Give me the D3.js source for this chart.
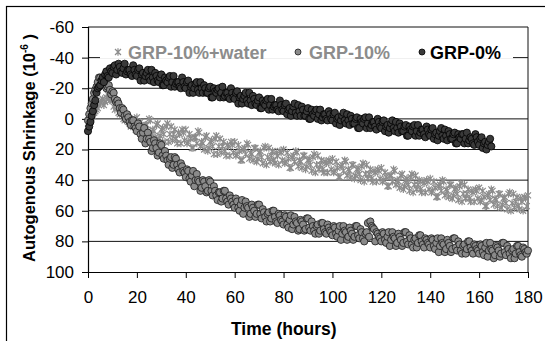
<!DOCTYPE html>
<html><head><meta charset="utf-8">
<script src="https://cdn.jsdelivr.net/npm/d3@7"></script>
<style>
html,body{margin:0;padding:0;background:#fff;}
text{font-family:"Liberation Sans",Arial,sans-serif;}
</style></head>
<body>
<svg id="chart" width="545" height="341"></svg>
<script>
// Series names (legend order)
const seriesNames = ["GRP-10%+water", "GRP-10%", "GRP-0%"];
// Readings on the hour (t = 0,1,2,... h) and on the half hour (t = 0.5,1.5,... h); values in 10^-6
const grpWaterHour = [3,1,-2,-5,-7,-10,-13,-11,-16,-12,
  -12,-6,-8,-3,-4,1,-1,3,0,4,
  -1,7,5,11,4,0,10,8,4,13,
  7,10,5,15,5,10,13,9,16,9,
  7,15,13,19,12,8,18,16,12,21,
  15,18,13,23,13,18,21,17,24,17,
  15,23,21,27,19,16,26,23,19,28,
  22,25,19,30,19,24,27,22,30,22,
  20,28,26,32,24,21,31,28,24,33,
  27,30,25,35,24,30,33,28,35,28,
  26,34,32,38,30,27,37,34,30,39,
  33,36,31,41,30,36,39,34,41,34,
  32,40,38,44,37,33,43,41,37,46,
  40,43,38,48,37,43,46,41,48,41,
  39,47,45,51,43,40,50,47,43,52,
  46,49,44,54,43,49,52,47,54,47,
  45,53,51,57,49,46,56,53,49,58,
  52,55,49,60,49,54,57,52,60,52,50];
const grpWaterHalf = [2,-1,-4,-6,-9,-12,-9,-14,-13,-15,
  -8,-10,-4,-6,0,-2,2,5,1,7,
  8,2,11,4,8,1,7,12,3,11,
  6,15,3,10,14,7,16,10,7,14,
  16,10,19,12,16,9,15,20,11,19,
  14,23,11,18,22,15,24,18,15,22,
  24,17,27,20,23,17,22,27,19,26,
  21,29,18,25,28,21,29,24,21,27,
  29,22,32,25,28,22,27,32,24,31,
  26,34,23,30,33,27,35,29,27,33,
  35,28,38,31,34,28,33,38,30,37,
  32,40,29,36,39,33,41,35,33,39,
  41,35,44,37,41,34,40,45,36,44,
  39,47,36,43,46,40,48,42,40,46,
  48,41,51,44,47,41,46,51,43,50,
  45,53,42,49,52,46,54,48,46,52,
  54,47,57,50,53,47,52,57,49,56,
  51,59,48,55,58,51,59,54,51,57];
const grp10Hour = [1,-7,-13,-19,-24,-27,-25,-23,-21,-19,
  -18,-13,-12,-7,-7,-2,-3,2,1,5,
  8,5,13,6,13,13,21,14,19,22,
  17,26,24,30,25,30,26,33,29,34,
  38,34,41,34,40,40,47,40,44,47,
  41,50,47,53,48,52,47,54,50,54,
  58,54,60,53,58,57,64,56,60,62,
  56,65,61,67,61,65,60,67,62,66,
  69,64,71,63,69,67,73,66,69,72,
  65,73,70,75,69,73,68,74,69,73,
  76,71,77,70,75,73,79,71,75,77,
  70,78,74,80,74,77,70,72,74,77,
  80,75,81,74,79,77,83,75,79,81,
  74,82,78,84,78,81,76,82,78,81,
  84,79,85,78,83,81,87,79,83,85,
  78,86,82,88,82,85,80,86,82,85,
  88,83,89,81,86,85,91,83,86,88,
  81,89,85,91,85,88,83,89,84,87,86];
const grp10Half = [-3,-10,-17,-21,-27,-23,-26,-20,-22,-16,
  -17,-11,-10,-4,-6,0,-1,4,1,6,
  3,10,9,16,9,15,19,16,24,16,
  24,21,27,26,32,25,30,35,31,35,
  33,39,37,44,36,41,45,41,48,40,
  47,44,50,48,54,47,52,56,52,56,
  52,58,56,62,54,58,62,58,64,56,
  62,59,64,62,67,60,64,68,63,67,
  63,69,66,72,64,68,72,67,73,65,
  71,67,73,70,75,68,72,75,71,74,
  70,75,73,79,70,74,77,73,79,70,
  76,72,78,75,68,67,71,80,75,78,
  74,79,77,83,74,78,81,77,83,74,
  80,76,82,79,84,76,80,84,79,82,
  78,83,81,87,78,82,85,81,87,78,
  84,80,86,83,88,80,84,88,83,86,
  82,87,84,90,81,86,89,84,90,81,
  87,83,88,86,91,83,87,90,85,88];
const grp0Hour = [8,2,-5,-12,-20,-22,-27,-29,-28,-33,
  -30,-35,-32,-34,-30,-36,-31,-32,-28,-32,
  -28,-33,-29,-25,-30,-27,-32,-24,-28,-24,
  -29,-22,-25,-27,-21,-28,-23,-24,-20,-24,
  -20,-25,-21,-17,-23,-19,-24,-17,-20,-17,
  -21,-14,-18,-19,-14,-21,-15,-17,-13,-17,
  -13,-18,-14,-10,-15,-12,-17,-9,-13,-9,
  -14,-7,-10,-12,-6,-13,-8,-9,-5,-9,
  -5,-10,-6,-2,-8,-4,-9,-2,-6,-2,
  -7,0,-3,-5,0,-6,-1,-3,1,-3,
  1,-4,0,4,-2,1,-3,4,0,3,
  -1,6,2,0,6,-1,4,2,7,2,
  6,1,5,9,3,6,2,9,5,8,
  4,11,7,5,11,4,9,7,12,7,
  11,6,10,14,8,11,7,14,10,13,
  9,16,12,10,16,9,14,13,17,12,
  17,12,16,20,15,18];
const grp0Half = [5,-2,-9,-17,-21,-25,-24,-31,-27,-31,
  -34,-29,-36,-31,-33,-29,-32,-29,-35,-29,
  -32,-25,-30,-28,-32,-25,-27,-30,-25,-27,
  -22,-27,-24,-28,-24,-21,-24,-21,-27,-21,
  -24,-17,-22,-20,-24,-17,-20,-22,-17,-20,
  -14,-20,-17,-20,-17,-14,-17,-14,-20,-14,
  -17,-10,-15,-13,-17,-10,-12,-15,-10,-12,
  -7,-12,-9,-13,-9,-6,-9,-6,-12,-6,
  -9,-3,-7,-5,-10,-2,-5,-8,-2,-5,
  0,-6,-2,-6,-3,1,-3,0,-5,0,
  -3,3,-1,1,-4,3,1,-2,3,0,
  6,0,3,-1,3,6,2,5,0,5,
  2,8,4,6,1,8,6,3,8,5,
  11,5,8,4,8,11,7,10,5,10,
  7,13,9,11,6,13,11,8,13,10,
  16,10,13,10,13,16,12,16,10,15,
  13,19,15,17,13];
const xTicks = [0,20,40,60,80,100,120,140,160,180];
const yTicks = [-60,-40,-20,0,20,40,60,80,100];
const xTitle = "Time (hours)";
const yTitle = "Autogenous Shrinkage (10";

const svg = d3.select("#chart");
const L = 88, R = 528, T = 27, B = 272;
const x = d3.scaleLinear().domain([0,180]).range([L,R]);
const y = d3.scaleLinear().domain([-60,100]).range([T,B]);

// outer frame
svg.append("rect").attr("x",6.5).attr("y",6.5).attr("width",600).attr("height",400)
  .attr("fill","#fff").attr("stroke","#000").attr("stroke-width",1.2);

// gridlines
svg.append("g").selectAll("line").data(yTicks.filter(d=>d!==100)).join("line")
  .attr("x1",L).attr("x2",R).attr("y1",d=>y(d)).attr("y2",d=>y(d))
  .attr("stroke","#111").attr("stroke-width",1);
svg.append("line").attr("x1",R).attr("x2",R).attr("y1",T).attr("y2",B).attr("stroke","#111");

// axes
const fontSize = 17;
const yAxis = d3.axisLeft(y).tickValues(yTicks).tickFormat(d=>String(d)).tickSize(6).tickPadding(8);
const gy = svg.append("g").attr("transform",`translate(${L},0)`).call(yAxis);
const xAxis = d3.axisBottom(x).tickValues(xTicks).tickFormat(d=>String(d)).tickSize(6).tickPadding(13);
const gx = svg.append("g").attr("transform",`translate(0,${B})`).call(xAxis);
[gx,gy].forEach(g=>{
  g.select(".domain").attr("stroke","#000").attr("stroke-width",1.2);
  g.selectAll(".tick line").attr("stroke","#000");
  g.selectAll(".tick text").attr("font-size",fontSize).attr("fill","#000")
   .attr("font-family","Liberation Sans, Arial, sans-serif");
});
gx.select(".domain").attr("d",`M${L},0.5H${R}`);
gy.select(".domain").attr("d",`M0.5,${T}V${B}`);

// series
const pts = (hour, half) => hour.map((v,i)=>({t:i,v}))
  .concat(half.map((v,i)=>({t:i+0.5,v}))).sort((a,b)=>a.t-b.t);
const star = "M-3,-3L3,3M-3,3L3,-3M0,-3.8V3.8";
svg.append("g").selectAll("path").data(pts(grpWaterHour,grpWaterHalf)).join("path")
  .attr("d",star).attr("transform",d=>`translate(${x(d.t)},${y(d.v)})`)
  .attr("stroke","#8c8c8c").attr("stroke-width",1.2).attr("fill","none");
svg.append("g").selectAll("circle").data(pts(grp10Hour,grp10Half)).join("circle")
  .attr("cx",d=>x(d.t)).attr("cy",d=>y(d.v)).attr("r",3.6)
  .attr("fill","#8a8a8a").attr("stroke","#1a1a1a").attr("stroke-width",0.8);
svg.append("g").selectAll("circle").data(pts(grp0Hour,grp0Half)).join("circle")
  .attr("cx",d=>x(d.t)).attr("cy",d=>y(d.v)).attr("r",3.6)
  .attr("fill","#3a3a3a").attr("stroke","#000").attr("stroke-width",0.8);

// legend
svg.append("rect").attr("x",100).attr("y",40).attr("width",413).attr("height",18.5).attr("fill","#fff");
const lg = svg.append("g").attr("font-weight","bold").attr("font-size",18);
lg.append("path").attr("d",star).attr("transform","translate(118,52)")
  .attr("stroke","#8c8c8c").attr("stroke-width",1.2).attr("fill","none");
lg.append("text").attr("x",128).attr("y",58.5).attr("fill","#8c8c8c").text(seriesNames[0]);
lg.append("circle").attr("cx",298).attr("cy",52).attr("r",3).attr("fill","#8a8a8a").attr("stroke","#1a1a1a").attr("stroke-width",0.8);
lg.append("text").attr("x",309).attr("y",58.5).attr("fill","#8c8c8c").text(seriesNames[1]);
lg.append("circle").attr("cx",422).attr("cy",52).attr("r",3).attr("fill","#3a3a3a").attr("stroke","#000").attr("stroke-width",0.8);
lg.append("text").attr("x",430).attr("y",58.5).attr("fill","#000").text(seriesNames[2]);

// axis titles
svg.append("text").attr("x",231).attr("y",335).attr("font-weight","bold").attr("font-size",17.5)
  .attr("fill","#000").text(xTitle);
const yt = svg.append("text").attr("transform","translate(35,148) rotate(-90)")
  .attr("text-anchor","middle").attr("font-weight","bold").attr("font-size",16.5).attr("fill","#000");
yt.append("tspan").text(yTitle);
yt.append("tspan").attr("font-size",10).attr("dy",-7).text("-6");
yt.append("tspan").attr("dy",7).text(" )");
</script>
</body></html>
